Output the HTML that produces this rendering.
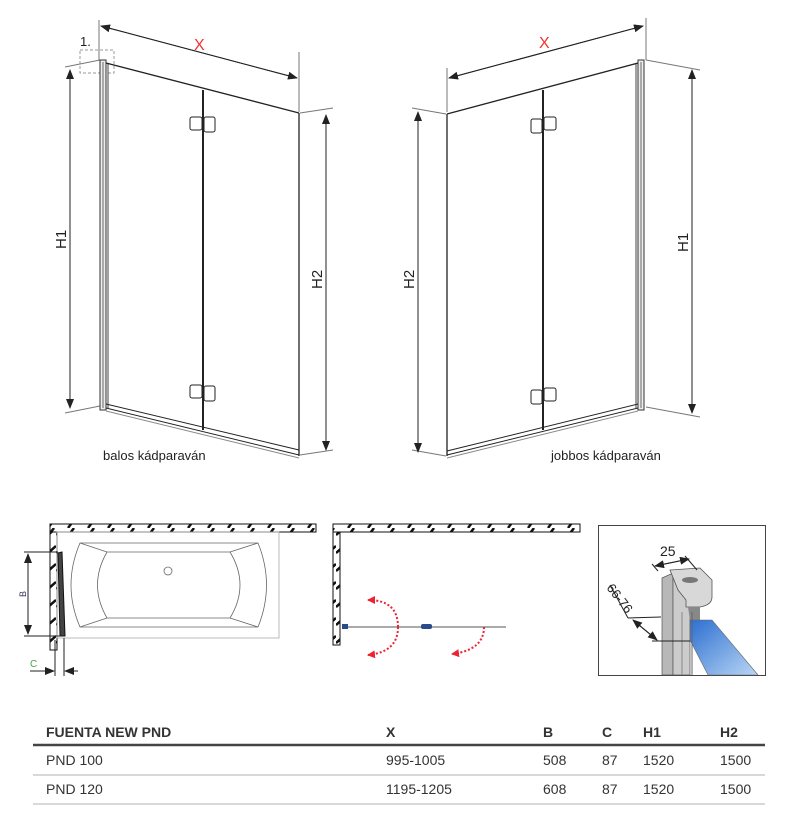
<!DOCTYPE html>
<html><head><meta charset="utf-8"><style>
html,body{margin:0;padding:0;background:#fff;}
svg{display:block}
.t{font-family:"Liberation Sans",sans-serif;}
.n{font-family:"Liberation Sans Narrow","Liberation Sans",sans-serif;font-size:14px;fill:#333}
</style></head><body>
<svg width="799" height="823" viewBox="0 0 799 823" xmlns="http://www.w3.org/2000/svg">
<defs>
<marker id="a" markerWidth="10" markerHeight="8" refX="9" refY="4" orient="auto" markerUnits="userSpaceOnUse"><path d="M0,0 L10,4 L0,8 z" fill="#222"/></marker>
<marker id="r" markerWidth="8" markerHeight="8" refX="7" refY="4" orient="auto" markerUnits="userSpaceOnUse"><path d="M0,0 L8,4 L0,8 z" fill="#e23"/></marker>
<pattern id="h" width="20" height="8" patternUnits="userSpaceOnUse"><rect width="20" height="8" fill="#fff"/><path d="M8,8 L14,0" stroke="#111" stroke-width="2.5"/></pattern>
<pattern id="hv" width="8" height="18" patternUnits="userSpaceOnUse"><rect width="8" height="18" fill="#fff"/><path d="M0,13 L8,6" stroke="#111" stroke-width="2.5"/></pattern>
<linearGradient id="bl" x1="0" y1="0" x2="1" y2="1"><stop offset="0" stop-color="#2d6fd0"/><stop offset="1" stop-color="#b9d6f5"/></linearGradient>
</defs>

<!-- LEFT DRAWING -->
<g stroke="#222" fill="none" stroke-width="1">
<line x1="99" y1="20" x2="99" y2="60" stroke="#777"/>
<line x1="299" y1="52" x2="299" y2="112" stroke="#777"/>
<line x1="101" y1="26" x2="297" y2="78" marker-end="url(#a)"/>
<line x1="297" y1="78" x2="101" y2="26" marker-end="url(#a)"/>
<rect x="80" y="50" width="34" height="23" stroke="#999" stroke-dasharray="3,2"/>
<line x1="65" y1="67" x2="100" y2="60" stroke="#777"/>
<line x1="65" y1="413" x2="100" y2="406" stroke="#777"/>
<line x1="70" y1="70" x2="70" y2="408" marker-end="url(#a)"/>
<line x1="70" y1="408" x2="70" y2="70" marker-end="url(#a)"/>
<line x1="300" y1="113" x2="333" y2="108" stroke="#777"/>
<line x1="300" y1="455" x2="333" y2="450" stroke="#777"/>
<line x1="326" y1="115" x2="326" y2="450" marker-end="url(#a)"/>
<line x1="326" y1="450" x2="326" y2="115" marker-end="url(#a)"/>
<rect x="100" y="60" width="6" height="350" fill="#eee" stroke="#333"/>
<line x1="103" y1="62" x2="103" y2="408" stroke="#666"/>
<line x1="108" y1="64" x2="108" y2="408" stroke="#444"/>
<line x1="106" y1="63" x2="299" y2="113" stroke-width="1.3"/>
<line x1="299" y1="113" x2="299" y2="456" stroke-width="1.3"/>
<line x1="203" y1="90" x2="203" y2="430" stroke-width="2"/>
<line x1="106" y1="404" x2="299" y2="450"/>
<line x1="106" y1="408" x2="299" y2="455"/>
<line x1="106" y1="411" x2="299" y2="458" stroke="#888"/>
<rect x="190" y="117" width="12" height="13" rx="2"/><rect x="204" y="117" width="11" height="15" rx="2"/>
<rect x="190" y="385" width="12" height="13" rx="2"/><rect x="204" y="386" width="11" height="15" rx="2"/>
</g>
<text x="194" y="50" class="t" font-size="16" fill="#e33">X</text>
<text x="80" y="46" class="t" font-size="13" fill="#222">1.</text>
<text class="t" font-size="15" fill="#222" transform="translate(66,249) rotate(-90)">H1</text>
<text class="t" font-size="15" fill="#222" transform="translate(322,289) rotate(-90)">H2</text>
<text x="103" y="460" class="t" font-size="13" fill="#222">balos kádparaván</text>

<!-- RIGHT DRAWING -->
<g stroke="#222" fill="none" stroke-width="1">
<line x1="447" y1="68" x2="447" y2="112" stroke="#777"/>
<line x1="646" y1="18" x2="646" y2="60" stroke="#777"/>
<line x1="449" y1="78" x2="643" y2="26" marker-end="url(#a)"/>
<line x1="643" y1="26" x2="449" y2="78" marker-end="url(#a)"/>
<line x1="646" y1="60" x2="700" y2="70" stroke="#777"/>
<line x1="646" y1="407" x2="700" y2="417" stroke="#777"/>
<line x1="692" y1="70" x2="692" y2="413" marker-end="url(#a)"/>
<line x1="692" y1="413" x2="692" y2="70" marker-end="url(#a)"/>
<line x1="412" y1="108" x2="446" y2="114" stroke="#777"/>
<line x1="412" y1="450" x2="446" y2="456" stroke="#777"/>
<line x1="418" y1="112" x2="418" y2="452" marker-end="url(#a)"/>
<line x1="418" y1="452" x2="418" y2="112" marker-end="url(#a)"/>
<rect x="638" y="60" width="6" height="350" fill="#eee" stroke="#333"/>
<line x1="641" y1="62" x2="641" y2="408" stroke="#666"/>
<line x1="636" y1="64" x2="636" y2="408" stroke="#444"/>
<line x1="447" y1="114" x2="638" y2="63" stroke-width="1.3"/>
<line x1="447" y1="114" x2="447" y2="456" stroke-width="1.3"/>
<line x1="543" y1="90" x2="543" y2="430" stroke-width="2"/>
<line x1="447" y1="451" x2="638" y2="404"/>
<line x1="447" y1="455" x2="638" y2="408"/>
<line x1="447" y1="458" x2="638" y2="411" stroke="#888"/>
<rect x="531" y="119" width="11" height="14" rx="2"/><rect x="544" y="117" width="12" height="13" rx="2"/>
<rect x="531" y="390" width="11" height="14" rx="2"/><rect x="544" y="388" width="12" height="13" rx="2"/>
</g>
<text x="539" y="48" class="t" font-size="16" fill="#e33">X</text>
<text class="t" font-size="15" fill="#222" transform="translate(688,252) rotate(-90)">H1</text>
<text class="t" font-size="15" fill="#222" transform="translate(414,289) rotate(-90)">H2</text>
<text x="551" y="460" class="t" font-size="13" fill="#222">jobbos kádparaván</text>

<!-- BOTTOM LEFT PLAN -->
<rect x="50" y="524" width="266" height="8" fill="url(#h)" stroke="#111"/>
<rect x="50" y="532" width="7" height="118" fill="url(#hv)" stroke="#111"/>
<g stroke="#666" fill="none" stroke-width="0.8">
<rect x="57" y="532" width="222" height="106" stroke="#aaa"/>
<path d="M80,543 L258,543 Q275,585 258,627 L80,627 Q62,585 80,543 Z"/>
<path d="M107,552 L230,552 Q250,585 230,618 L107,618 Q88,585 107,552 Z"/>
<line x1="80" y1="543" x2="107" y2="552"/><line x1="258" y1="543" x2="230" y2="552"/>
<line x1="80" y1="627" x2="107" y2="618"/><line x1="258" y1="627" x2="230" y2="618"/>
<circle cx="168" cy="571" r="4"/>
</g>
<path d="M58,553 L62,552 L65,636 L60,636 Z" fill="#444" stroke="#111"/>
<g stroke="#222" stroke-width="1" fill="none">
<line x1="24" y1="552" x2="58" y2="552"/><line x1="24" y1="636" x2="60" y2="636"/>
<line x1="28" y1="554" x2="28" y2="634" marker-end="url(#a)"/>
<line x1="28" y1="634" x2="28" y2="554" marker-end="url(#a)"/>
<line x1="55" y1="640" x2="55" y2="676"/><line x1="64" y1="638" x2="64" y2="676"/>
<line x1="30" y1="671" x2="54" y2="671" marker-end="url(#a)"/>
<line x1="78" y1="671" x2="65" y2="671" marker-end="url(#a)"/>
</g>
<text class="t" font-size="9" fill="#335" transform="translate(26,597) rotate(-90)">B</text>
<text x="30" y="667" class="t" font-size="10" fill="#4a4">C</text>

<!-- BOTTOM MIDDLE PLAN -->
<rect x="333" y="524" width="247" height="8" fill="url(#h)" stroke="#111"/>
<rect x="333" y="532" width="7" height="113" fill="url(#hv)" stroke="#111"/>
<line x1="343" y1="627" x2="506" y2="627" stroke="#aaa" stroke-width="2"/>
<rect x="342" y="624" width="6" height="5" fill="#2a4a8a"/>
<rect x="421" y="624" width="11" height="5" rx="2" fill="#2a4a8a"/>
<g stroke="#e23" stroke-width="2" fill="none" stroke-dasharray="2,2">
<path d="M398,627 Q398,600 368,600" marker-end="url(#r)"/>
<path d="M398,627 Q398,652 368,655" marker-end="url(#r)"/>
<path d="M484,627 Q484,650 452,654" marker-end="url(#r)"/>
</g>

<!-- DETAIL BOX -->
<rect x="598.5" y="525.5" width="167" height="150" fill="#fff" stroke="#444"/>
<g>
<path d="M662,578 L673,573 L673,675 L662,675 Z" fill="#b8b8b8" stroke="#555" stroke-width="0.7"/>
<path d="M673,573 L690,573 L690,675 L673,675 Z" fill="#ccc" stroke="#555" stroke-width="0.7"/>
<path d="M670,570 L700,568 L712,580 L712,597 Q712,605 700,607 L686,607 L686,600 L678,590 Z" fill="#d8d8d8" stroke="#555" stroke-width="0.8"/>
<ellipse cx="690" cy="580" rx="8" ry="3" fill="#777"/>
<path d="M688,607 L700,607 L700,620 L690,620 Z" fill="#888"/>
<path d="M690,620 L712,620 L758,675 L708,675 L690,640 Z" fill="url(#bl)" stroke="#666" stroke-width="0.6"/>
<line x1="692" y1="612" x2="692" y2="675" stroke="#666"/>
<line x1="682" y1="612" x2="682" y2="675" stroke="#888"/>
</g>
<g stroke="#222" stroke-width="1" fill="none">
<line x1="652" y1="564" x2="658" y2="571"/><line x1="685" y1="556" x2="697" y2="570"/>
<line x1="655" y1="566" x2="689" y2="559" marker-end="url(#a)"/>
<line x1="689" y1="559" x2="655" y2="566" marker-end="url(#a)"/>
<line x1="628" y1="618" x2="661" y2="617"/><line x1="652" y1="641" x2="690" y2="641"/>
<line x1="610" y1="585" x2="628" y2="618"/>
<line x1="633" y1="620" x2="657" y2="640" marker-end="url(#a)"/>
<line x1="657" y1="640" x2="633" y2="620" marker-end="url(#a)"/>
</g>
<text x="660" y="556" class="t" font-size="14" fill="#222">25</text>
<text class="t" font-size="13" fill="#222" transform="translate(606,588) rotate(52)">66-76</text>

<!-- TABLE -->
<line x1="33" y1="745" x2="765" y2="745" stroke="#444" stroke-width="2.5"/>
<line x1="33" y1="775" x2="765" y2="775" stroke="#ccc" stroke-width="1.5"/>
<line x1="33" y1="804" x2="765" y2="804" stroke="#ccc" stroke-width="1.5"/>
<text x="46" y="737" class="n" font-weight="bold">FUENTA NEW PND</text>
<text x="386" y="737" class="n" font-weight="bold">X</text>
<text x="543" y="737" class="n" font-weight="bold">B</text>
<text x="602" y="737" class="n" font-weight="bold">C</text>
<text x="643" y="737" class="n" font-weight="bold">H1</text>
<text x="720" y="737" class="n" font-weight="bold">H2</text>
<text x="46" y="765" class="n">PND 100</text><text x="386" y="765" class="n">995-1005</text>
<text x="543" y="765" class="n">508</text><text x="602" y="765" class="n">87</text>
<text x="643" y="765" class="n">1520</text><text x="720" y="765" class="n">1500</text>
<text x="46" y="794" class="n">PND 120</text><text x="386" y="794" class="n">1195-1205</text>
<text x="543" y="794" class="n">608</text><text x="602" y="794" class="n">87</text>
<text x="643" y="794" class="n">1520</text><text x="720" y="794" class="n">1500</text>
</svg>
</body></html>
